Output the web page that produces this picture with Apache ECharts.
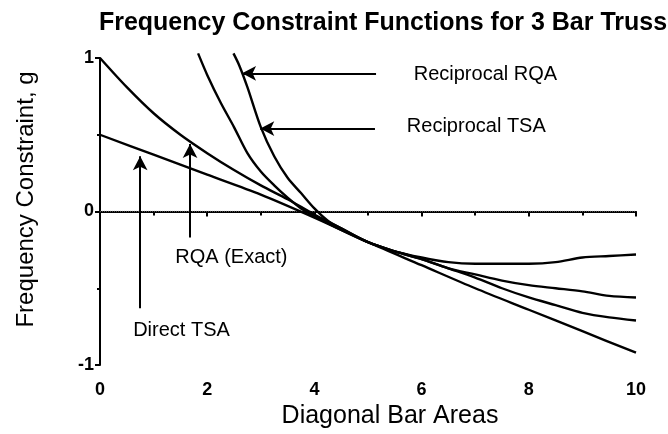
<!DOCTYPE html>
<html>
<head>
<meta charset="utf-8">
<script src="https://cdn.jsdelivr.net/npm/echarts@6/dist/echarts.min.js"></script>
<style>
  html, body { margin: 0; padding: 0; background: #fff; }
  #main { width: 668px; height: 434px; }
</style>
</head>
<body>
<div id="main"></div>
<script>
// curves
const directTsaX = [0, 1, 2, 3, 4, 5, 6, 7, 8, 9, 10];
const directTsaY = [0.50, 0.37, 0.24, 0.11, -0.04, -0.20, -0.35, -0.50, -0.64, -0.78, -0.92];

const rqaExactX = [0, 0.5, 1, 1.5, 2, 2.5, 3, 3.5, 4, 4.5, 5, 5.5, 6, 6.5, 7, 7.5, 8, 8.5, 9, 9.5, 10];
const rqaExactY = [1.00, 0.81, 0.64, 0.50, 0.38, 0.27, 0.17, 0.08, -0.02, -0.11, -0.20, -0.26, -0.31, -0.37, -0.43, -0.50, -0.56, -0.61, -0.66, -0.69, -0.71];

const recipTsaX = [1.83, 2.0, 2.25, 2.5, 2.75, 3.0, 3.25, 3.5, 3.75, 4.0, 4.5, 5, 5.5, 6, 6.5, 7, 7.5, 8, 8.5, 9, 9.5, 10];
const recipTsaY = [1.03, 0.89, 0.71, 0.55, 0.38, 0.26, 0.17, 0.09, 0.02, -0.03, -0.12, -0.20, -0.26, -0.30, -0.33, -0.34, -0.34, -0.34, -0.33, -0.30, -0.29, -0.28];

const recipRqaX = [2.49, 2.6, 2.75, 3.0, 3.25, 3.5, 3.75, 4.0, 4.25, 4.5, 5, 5.5, 6, 6.5, 7, 7.5, 8, 8.5, 9, 9.5, 10];
const recipRqaY = [1.03, 0.95, 0.81, 0.55, 0.36, 0.22, 0.12, 0.02, -0.06, -0.11, -0.20, -0.26, -0.31, -0.37, -0.41, -0.45, -0.48, -0.50, -0.52, -0.55, -0.56];

const zeroLineX = [0, 10];
const zeroLineY = [0, 0];

// annotations (data units)
const noteText = ["Reciprocal RQA", "Reciprocal TSA", "RQA (Exact)", "Direct TSA"];
const noteX = [7.2, 7.03, 2.46, 1.53];
const noteY = [0.89, 0.55, -0.30, -0.78];

// arrows: tail -> tip
const arrowFrom = [[5.15, 0.90], [5.13, 0.54], [1.68, -0.17], [0.75, -0.63]];
const arrowTo = [[2.65, 0.90], [2.99, 0.54], [1.68, 0.44], [0.75, 0.36]];

const pairs = (xs, ys) => xs.map((x, i) => [x, ys[i]]);

const ink = "#000";
const font = "Liberation Sans, Arial, Helvetica, sans-serif";

const curve = (name, xs, ys) => ({
  name: name,
  type: "line",
  data: pairs(xs, ys),
  smooth: 0.3,
  showSymbol: false,
  clip: false,
  silent: true,
  lineStyle: { color: ink, width: 2.4 },
});

const chart = echarts.init(document.getElementById("main"));

const option = {
  animation: false,
  title: {
    text: "Frequency Constraint Functions for 3 Bar Truss",
    left: 378,
    top: 6,
    textAlign: "center",
    textStyle: { fontFamily: font, fontSize: 25, fontWeight: "bold", color: ink },
  },
  grid: { left: 100, right: 32, top: 58, bottom: 69 },
  xAxis: {
    type: "value",
    min: 0,
    max: 10,
    interval: 2,
    name: "Diagonal Bar Areas",
    nameLocation: "middle",
    nameGap: 35,
    nameTextStyle: { fontFamily: font, fontSize: 25, color: ink, padding: [0, 0, 0, 44] },
    axisLine: { lineStyle: { color: ink, width: 2 } },
    axisTick: { length: 5, lineStyle: { color: ink, width: 2 } },
    minorTick: { show: true, splitNumber: 2, length: 4, lineStyle: { color: ink, width: 2 } },
    splitLine: { show: false },
    axisLabel: { fontFamily: font, fontSize: 18, fontWeight: "bold", color: ink, margin: 16 },
  },
  yAxis: {
    type: "value",
    min: -1,
    max: 1,
    interval: 1,
    name: "Frequency Constraint, g",
    nameLocation: "middle",
    nameGap: 62,
    nameTextStyle: { fontFamily: font, fontSize: 24, color: ink, padding: [0, 0, 0, 24] },
    axisLine: { lineStyle: { color: ink, width: 2 } },
    axisTick: { length: 5, lineStyle: { color: ink, width: 2 } },
    minorTick: { show: true, splitNumber: 2, length: 3, lineStyle: { color: ink, width: 2 } },
    splitLine: { show: false },
    axisLabel: { fontFamily: font, fontSize: 18, fontWeight: "bold", color: ink, margin: 6 },
  },
  series: [
    {
      name: "zero",
      type: "line",
      data: pairs(zeroLineX, zeroLineY),
      showSymbol: false,
      silent: true,
      lineStyle: { color: "#555", width: 1.2, type: [1, 1] },
      markLine: {
        silent: true,
        symbol: ["none", "arrow"],
        symbolSize: [11, 14],
        label: { show: false },
        lineStyle: { color: ink, width: 2, type: "solid" },
        data: arrowFrom.map((a, i) => [{ coord: a }, { coord: arrowTo[i] }]),
      },
    },
    curve("Direct TSA", directTsaX, directTsaY),
    curve("RQA (Exact)", rqaExactX, rqaExactY),
    curve("Reciprocal TSA", recipTsaX, recipTsaY),
    curve("Reciprocal RQA", recipRqaX, recipRqaY),
    {
      name: "notes",
      type: "scatter",
      symbolSize: 1,
      itemStyle: { opacity: 0 },
      silent: true,
      data: noteX.map((x, i) => ({ value: [x, noteY[i]], name: noteText[i] })),
      label: {
        show: true,
        position: [0, 0],
        align: "center",
        verticalAlign: "middle",
        formatter: (p) => p.name,
        fontFamily: font,
        fontSize: 20,
        color: ink,
        opacity: 1,
      },
    },
  ],
};

chart.setOption(option);
</script>
</body>
</html>
